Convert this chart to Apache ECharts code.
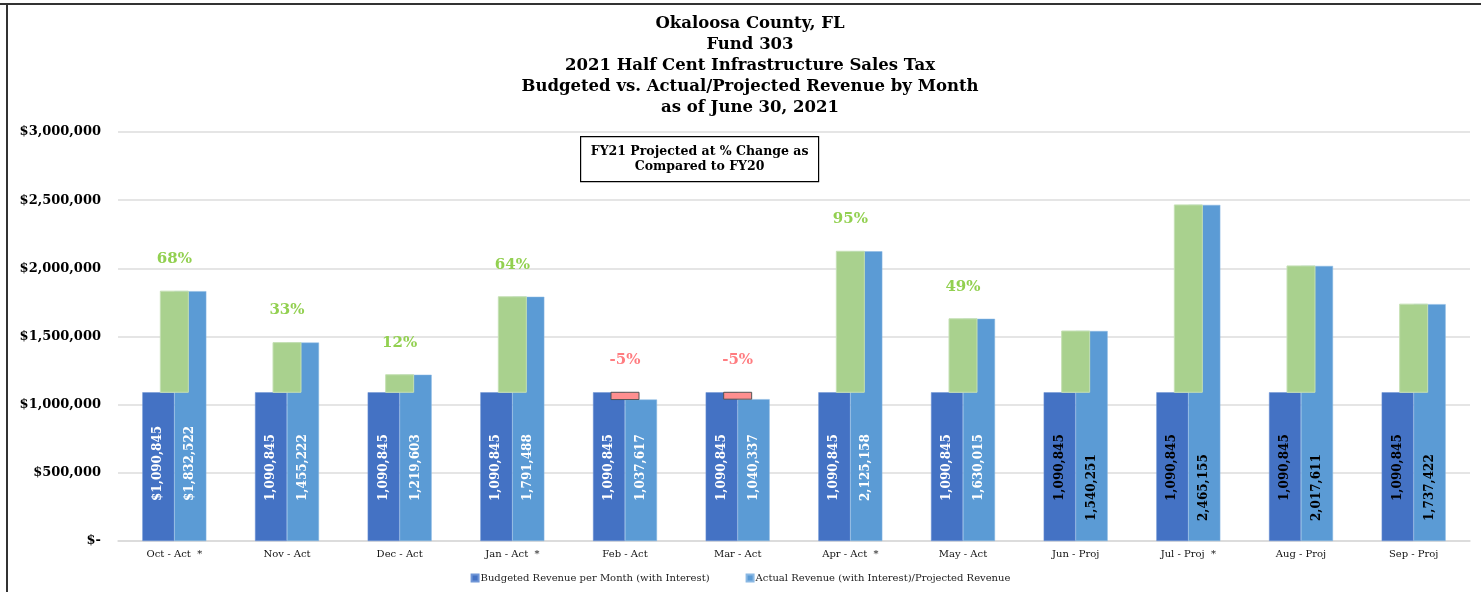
<!DOCTYPE html>
<html>
<head>
<meta charset="utf-8">
<script src="https://cdn.jsdelivr.net/npm/echarts@6/dist/echarts.min.js"></script>
<style>
html,body{margin:0;padding:0;background:#fff;}
#chart{width:1481px;height:592px;}
</style>
</head>
<body>
<div id="chart"></div>
<script>
const months = ['Oct - Act  *', 'Nov - Act', 'Dec - Act', 'Jan - Act  *', 'Feb - Act', 'Mar - Act', 'Apr - Act  *', 'May - Act', 'Jun - Proj', 'Jul - Proj  *', 'Aug - Proj', 'Sep - Proj'];
const budget = [1090845, 1090845, 1090845, 1090845, 1090845, 1090845, 1090845, 1090845, 1090845, 1090845, 1090845, 1090845];
const actual = [1832522, 1455222, 1219603, 1791488, 1037617, 1040337, 2125158, 1630015, 1540251, 2465155, 2017611, 1737422];
const pctLabels = ['68%', '33%', '12%', '64%', '-5%', '-5%', '95%', '49%', '', '', '', ''];
const projected = [false, false, false, false, false, false, false, false, true, true, true, true];
const dollarPrefix = [true, false, false, false, false, false, false, false, false, false, false, false];
const yTicks = [0, 500000, 1000000, 1500000, 2000000, 2500000, 3000000];

const SERIF = '"DejaVu Serif", "Liberation Serif", serif';
const fmt = v => v.toLocaleString('en-US');

function barData(values, isActual) {
  return values.map((v, i) => ({
    value: v,
    label: {
      color: projected[i] ? '#000' : '#fff',
      distance: (isActual && projected[i]) ? 20 : 40
    }
  }));
}

const diffData = months.map((m, i) => [i, Math.min(budget[i], actual[i]), Math.max(budget[i], actual[i]), actual[i] >= budget[i] ? 1 : 0, pctLabels[i]]);

const chart = echarts.init(document.getElementById('chart'));
chart.setOption({
  animation: false,
  backgroundColor: '#fff',
  title: {
    text: 'Okaloosa County, FL\nFund 303\n2021 Half Cent Infrastructure Sales Tax\nBudgeted vs. Actual/Projected Revenue by Month\nas of June 30, 2021',
    left: 745,
    textAlign: 'center',
    top: 8,
    textStyle: { fontFamily: SERIF, fontWeight: 'bold', fontSize: 16.5, lineHeight: 21, color: '#000' }
  },
  legend: {
    bottom: 4,
    left: 'center',
    itemWidth: 7,
    itemHeight: 7,
    itemGap: 36,
    icon: 'rect',
    data: ['Budgeted Revenue per Month (with Interest)', 'Actual Revenue (with Interest)/Projected Revenue'],
    textStyle: { fontFamily: SERIF, fontSize: 10, color: '#222', padding: [0, 0, 0, -3] }
  },
  grid: { left: 118, right: 11, top: 132, bottom: 51, containLabel: false },
  xAxis: {
    type: 'category',
    data: months,
    axisTick: { show: false },
    axisLine: { lineStyle: { color: '#d9d9d9', width: 1.5 } },
    axisLabel: { fontFamily: SERIF, fontSize: 10, color: '#111', margin: 8 }
  },
  yAxis: {
    type: 'value',
    min: 0,
    max: 3000000,
    interval: 500000,
    axisLine: { show: false },
    axisTick: { show: false },
    splitLine: { lineStyle: { color: '#dcdcdc', width: 1.5 } },
    axisLabel: {
      fontFamily: SERIF, fontWeight: 'bold', fontSize: 13, color: '#000', margin: 17,
      formatter: v => v === 0 ? '$-' : '$' + fmt(v)
    }
  },
  series: [
    {
      name: 'Budgeted Revenue per Month (with Interest)',
      type: 'bar',
      barWidth: 32,
      barGap: '0%',
      itemStyle: { color: '#4472C4', borderColor: '#6f95d6', borderWidth: 0.5 },
      label: {
        show: true, position: 'insideBottom', rotate: 90, align: 'left', verticalAlign: 'middle',
        fontFamily: SERIF, fontWeight: 'bold', fontSize: 12,
        formatter: p => (dollarPrefix[p.dataIndex] ? '$' : '') + fmt(p.value)
      },
      data: barData(budget, false),
      z: 2
    },
    {
      name: 'Actual Revenue (with Interest)/Projected Revenue',
      type: 'bar',
      barWidth: 32,
      barGap: '0%',
      itemStyle: { color: '#5B9BD5', borderColor: '#8ab8e3', borderWidth: 0.5 },
      label: {
        show: true, position: 'insideBottom', rotate: 90, align: 'left', verticalAlign: 'middle',
        fontFamily: SERIF, fontWeight: 'bold', fontSize: 12,
        formatter: p => (dollarPrefix[p.dataIndex] ? '$' : '') + fmt(p.value)
      },
      data: barData(actual, true),
      z: 2
    },
    {
      name: 'Change',
      type: 'custom',
      z: 5,
      encode: { x: 0, y: [1, 2] },
      data: diffData,
      renderItem: function (params, api) {
        const idx = api.value(0);
        const lo = api.coord([idx, api.value(1)]);
        const hi = api.coord([idx, api.value(2)]);
        const up = api.value(3) === 1;
        const w = 28;
        const label = pctLabels[params.dataIndex];
        const children = [{
          type: 'rect',
          shape: { x: lo[0] - w / 2, y: hi[1], width: w, height: lo[1] - hi[1] },
          style: up
            ? { fill: '#A9D18E', stroke: '#C5E0B4', lineWidth: 1 }
            : { fill: '#FF8F8F', stroke: '#555', lineWidth: 1 }
        }];
        if (label) {
          children.push({
            type: 'text',
            style: {
              x: lo[0], y: hi[1] - 32, text: label, align: 'center', verticalAlign: 'middle',
              fill: up ? '#92D050' : '#FF7C80',
              font: 'bold 15px ' + SERIF
            }
          });
        }
        return { type: 'group', children: children };
      }
    }
  ],
  graphic: [
    { type: 'line', shape: { x1: 0, y1: 4, x2: 1481, y2: 4 }, style: { stroke: '#333', lineWidth: 2 } },
    { type: 'line', shape: { x1: 7, y1: 4, x2: 7, y2: 592 }, style: { stroke: '#333', lineWidth: 2 } },
    {
      type: 'group', left: 580, top: 136,
      children: [
        { type: 'rect', shape: { x: 0, y: 0, width: 238, height: 45 }, style: { fill: '#fff', stroke: '#000', lineWidth: 1.2 } },
        { type: 'text', style: { x: 119, y: 22.5, text: 'FY21 Projected at % Change as\nCompared to FY20', align: 'center', verticalAlign: 'middle', font: 'bold 12.5px ' + SERIF, lineHeight: 15, fill: '#000' } }
      ]
    }
  ]
});
</script>
</body>
</html>
